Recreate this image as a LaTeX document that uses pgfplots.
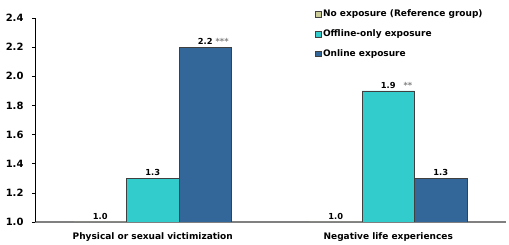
\documentclass[border=0pt]{standalone}
\usepackage{pgfplots}
\pgfplotsset{compat=1.18}
\usepackage{fontspec}
\setmainfont{DejaVu Sans}
\definecolor{cnone}{HTML}{CCCC99}
\definecolor{coff}{HTML}{33CCCC}
\definecolor{con}{HTML}{336699}
\begin{document}
\begin{tikzpicture}
\useasboundingbox (-35pt,-23pt) rectangle (474pt,222pt);
\begin{axis}[
  scale only axis, width=471pt, height=204pt,
  ybar=0pt, bar width=52.5pt,
  xmin=-0.5, xmax=1.5, ymin=1.0, ymax=2.4,
  axis x line=bottom, axis y line=left,
  x axis line style={-, draw=gray, line width=1.6pt},
  y axis line style={-, draw=black, line width=0.6pt},
  ytick={1.0,1.2,1.4,1.6,1.8,2.0,2.2,2.4},
  /pgf/number format/assume math mode=true,
  tick label style={font=\bfseries\fontsize{9}{10}\selectfont},
  yticklabel style={/pgf/number format/fixed, /pgf/number format/fixed zerofill, /pgf/number format/precision=1, xshift=-5pt, font=\bfseries\fontsize{10}{11}\selectfont},
  xtick={0,1}, xticklabels={Physical or sexual victimization, Negative life experiences},
  x tick label style={yshift=-4pt},
  xtick style={draw=none},
  extra x ticks={0.5,1.5}, extra x tick labels={},
  extra x tick style={tick align=outside, major tick length=3pt, tick style={draw=black, line width=0.6pt}},
  ytick style={draw=black, line width=0.6pt},
  tick align=outside, major tick length=3pt,
  point meta=explicit symbolic,
  nodes near coords,
  every node near coord/.append style={font=\bfseries\fontsize{8.3}{9}\selectfont, inner sep=2pt},
  legend style={draw=none, fill=none, at={(0.594,1.05)}, anchor=north west,
    font=\bfseries\fontsize{9}{10}\selectfont, row sep=7.5pt, inner sep=0pt},
  legend cell align=left,
  legend image code/.code={\draw[#1, draw=black!75, line width=0.5pt] (0pt,-2.8pt) rectangle (5.6pt,2.8pt);},
]
\addplot[fill=cnone, draw=black!75, line width=0.6pt] coordinates {(0,1.0) [1.0] (1,1.0) [1.0]};
\addplot[fill=coff, draw=black!75, line width=0.6pt] coordinates {(0,1.3) [1.3] (1,1.9) [{1.9\rlap{\hspace{8pt}\textcolor{gray}{**}}}]};
\addplot[fill=con, draw=black!75, line width=0.6pt] coordinates {(0,2.2) [{2.2\rlap{\hspace{3pt}\textcolor{gray}{***}}}] (1,1.3) [1.3]};
\legend{No exposure (Reference group), Offline-only exposure, Online exposure}
\end{axis}
\end{tikzpicture}
\end{document}
